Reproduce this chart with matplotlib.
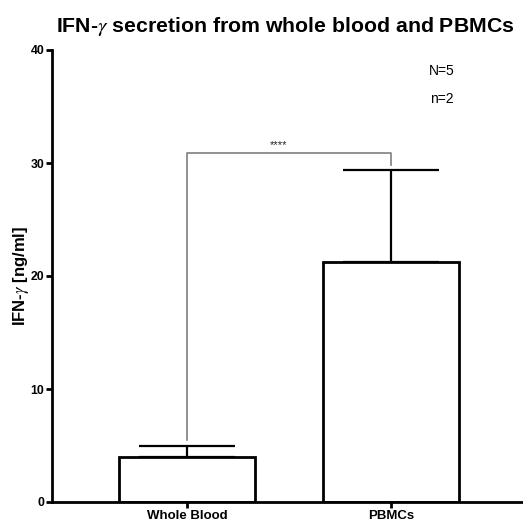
import numpy as np
import matplotlib.pyplot as plt

plt.rcParams['font.family'] = ['Liberation Sans', 'DejaVu Sans']
plt.rcParams['mathtext.fontset'] = 'stix'

groups = ['Whole Blood', 'PBMCs']
means = [3.95, 21.25]
sds = [1.0, 8.1]
stars = '****'
notes = ['N=5', 'n=2']

fig = plt.figure(figsize=(5.23, 5.22), dpi=100)
ax = fig.add_axes([52 / 523, 20 / 522, 471 / 523, 452 / 522])

x = np.arange(len(groups))
ax.bar(x, means, width=0.667, color='white', edgecolor='black', linewidth=2, zorder=2)
ax.errorbar(x, means, yerr=[np.zeros(len(sds)), sds], fmt='none', ecolor='black',
            elinewidth=1.6, capsize=34.5, capthick=1.6, zorder=1)

# significance bracket
top = means[1] + sds[1] + 1.5
ax.plot([0, 0, 1, 1], [means[0] + sds[0] + 0.5, top, top, means[1] + sds[1] + 0.5],
        color='#7f7f7f', lw=1.2, zorder=1)
ax.text(0.45, top + 0.25, stars, ha='center', va='bottom', fontsize=8, color='#222222')

ax.set_xlim(-0.66, 1.645)
ax.set_ylim(0, 40)
ax.set_yticks([0, 10, 20, 30, 40])
ax.set_xticks(x)
ax.set_xticklabels(groups, fontweight='bold', fontsize=9.5)
for lbl in ax.get_yticklabels():
    lbl.set_fontweight('bold')
    lbl.set_fontsize(8.8)
ax.tick_params(axis='both', direction='out', length=4.5, width=2)
ax.tick_params(axis='y', pad=1)
ax.tick_params(axis='x', pad=1.5)
for s in ['top', 'right']:
    ax.spines[s].set_visible(False)
for s in ['left', 'bottom']:
    ax.spines[s].set_linewidth(2)

ax.set_ylabel(r'IFN-$\gamma$ [ng/ml]', fontweight='bold', fontsize=12, labelpad=0)

for i, t in enumerate(notes):
    ax.text(1.247, 38.1 - i * 2.45, t, ha='center', va='center', fontsize=10)

fig.text(0.546, 0.950, r'IFN-$\gamma$ secretion from whole blood and PBMCs',
         ha='center', va='center', fontweight='bold', fontsize=15.3)

fig.savefig('out.png', dpi=100)
